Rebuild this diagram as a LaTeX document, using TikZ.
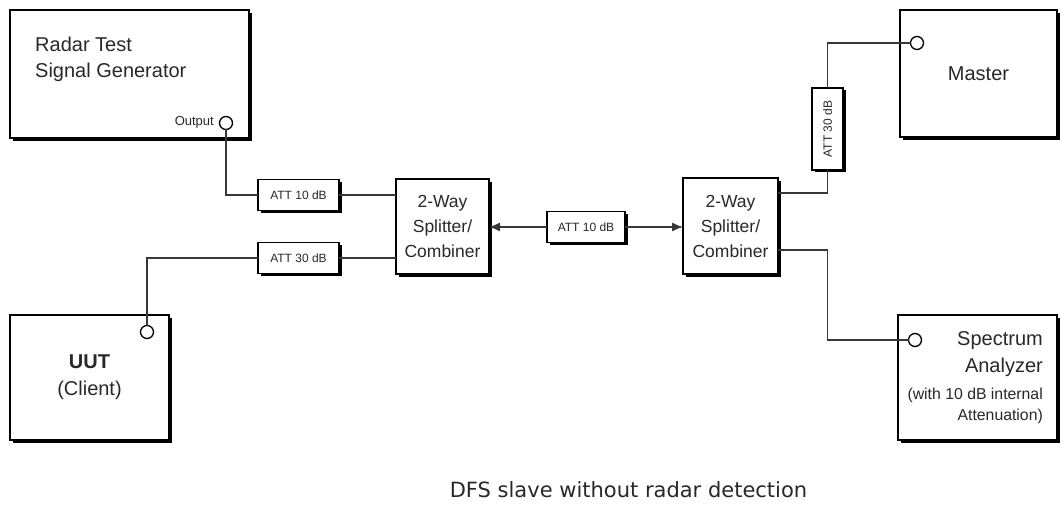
\documentclass[tikz,border=0pt]{standalone}
\usepackage{fontspec}
\setmainfont{Liberation Sans}
\newfontfamily\captionfont{DejaVu Sans}
\usetikzlibrary{arrows.meta,shadows}
\definecolor{wiregray}{RGB}{55,55,55}
\definecolor{inkgray}{RGB}{40,40,40}

\begin{document}
\begin{tikzpicture}[x=1pt, y=-1pt, inner sep=0pt, text=inkgray,
      font=\fontsize{20}{27}\selectfont,
      unit/.style={rectangle, draw=black, line width=1.6pt, fill=white, outer sep=0pt, align=center,
                   drop shadow={shadow xshift=3pt, shadow yshift=-3pt, fill=black, opacity=1}},
      att/.style={rectangle, draw=black, line width=1.2pt, fill=white, outer sep=0pt,
                  minimum height=31pt, font=\fontsize{12}{14}\selectfont,
                  drop shadow={shadow xshift=2.5pt, shadow yshift=-2.5pt, fill=black, opacity=1}},
      port/.style={circle, draw=black, line width=1.3pt, fill=white, minimum size=13pt, outer sep=0pt},
      wire/.style={draw=wiregray, line width=1.3pt}]
    \useasboundingbox (0,0) rectangle (1062,505);

    % instruments
    \node[unit, minimum width=239pt, minimum height=128pt] (radar) at (129.5,74) {};
    \node[anchor=base west] (radarl1) at (35,52) {Radar Test};
    \node[anchor=base west] (radarl2) at (35,78) {Signal Generator};
    \node[port] (out) at (226,123) {};
    \node[anchor=base east, font=\fontsize{13}{15}\selectfont] (outl) at (214,126) {Output};

    \node[unit, minimum width=159pt, minimum height=125pt] (uut) at (89.5,377.5) {\textbf{UUT}\\(Client)};
    \node[port] (uutport) at (147,332) {};

    \node[unit, minimum width=157pt, minimum height=127pt] (master) at (978.5,73.5) {Master};
    \node[port] (mport) at (917,43) {};

    \node[unit, minimum width=159pt, minimum height=125pt] (spec) at (977.5,377.5) {};
    \node[port] (sport) at (915,340) {};
    \node[anchor=base east] (specl1) at (1043,345) {Spectrum};
    \node[anchor=base east] (specl2) at (1043,372) {Analyzer};
    \node[anchor=base east, font=\fontsize{15.8}{18}\selectfont] (specl3) at (1043,399) {(with 10 dB internal};
    \node[anchor=base east, font=\fontsize{15.8}{18}\selectfont] (specl4) at (1043,420) {Attenuation)};

    % splitters and attenuators
    \node[unit, minimum width=93pt, minimum height=95pt, font=\fontsize{17.5}{25}\selectfont] (split1) at (442.5,226.5) {2-Way\\Splitter/\\Combiner};
    \node[unit, minimum width=95pt, minimum height=96pt, font=\fontsize{17.5}{25}\selectfont] (split2) at (730.5,226) {2-Way\\Splitter/\\Combiner};
    \node[att, minimum width=81pt] (att1) at (298.5,195) {ATT 10 dB};
    \node[att, minimum width=81pt] (att2) at (298.5,258) {ATT 30 dB};
    \node[att, minimum width=78pt] (attm) at (586,227) {ATT 10 dB};
    \node[att, minimum width=82pt, rotate=90] (att3) at (827.5,129) {ATT 30 dB};

    % cabling
    \draw[wire] (out.south) |- (att1.west);
    \draw[wire] (att1.east) -- (att1.east -| split1.west);
    \draw[wire] (uutport.north) |- (att2.west);
    \draw[wire] (att2.east) -- (att2.east -| split1.west);
    \draw[wire, -{Latex[length=11pt,width=9pt]}] (attm.west) -- (attm.west -| split1.east);
    \draw[wire, -{Latex[length=11pt,width=9pt]}] (attm.east) -- (attm.east -| split2.west);
    \draw[wire] ([yshift=-15pt]split2.north east) -| (att3.west);
    \draw[wire] (att3.east) |- (mport.west);
    \draw[wire] ([yshift=24pt]split2.south east) -| (att3.west |- sport.west) -- (sport.west);

    \node[anchor=base, font=\captionfont\fontsize{21}{25}\selectfont] (caption) at (628.5,497) {DFS slave without radar detection};
\end{tikzpicture}
\end{document}
